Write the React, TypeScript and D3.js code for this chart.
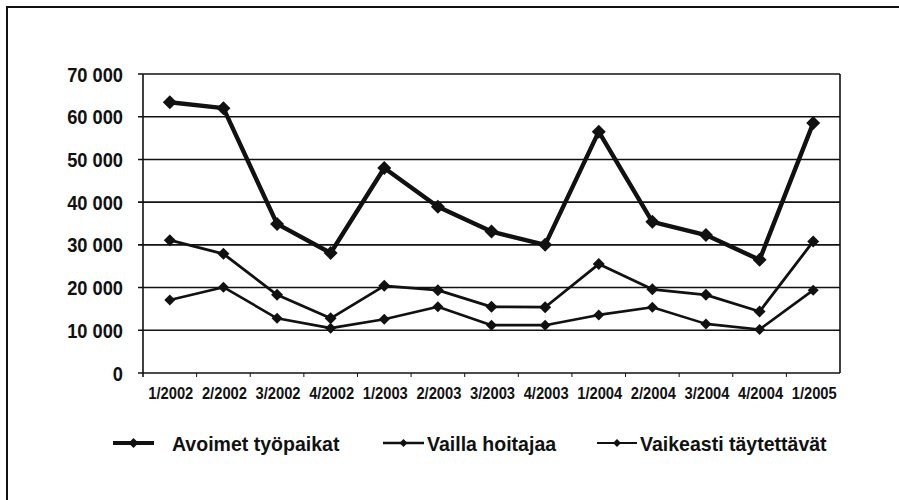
import { useEffect, useRef } from "react";
import * as d3 from "d3";

const quarters = [
  "1/2002", "2/2002", "3/2002", "4/2002",
  "1/2003", "2/2003", "3/2003", "4/2003",
  "1/2004", "2/2004", "3/2004", "4/2004",
  "1/2005",
];

const avoimet = [63400, 62000, 34900, 28100, 48000, 38900, 33100, 30000, 56500, 35400, 32300, 26500, 58500];
const vaillaHoitajaa = [31100, 27900, 18300, 12800, 20400, 19400, 15500, 15400, 25500, 19600, 18300, 14400, 30800];
const vaikeasti = [17100, 20100, 12800, 10500, 12600, 15500, 11200, 11200, 13600, 15400, 11500, 10200, 19400];

const yTicks = [0, 10000, 20000, 30000, 40000, 50000, 60000, 70000];

const seriesNames = ["Avoimet työpaikat", "Vailla hoitajaa", "Vaikeasti täytettävät"];

const W = 899;
const H = 500;
const FONT = "'Liberation Sans', Arial, sans-serif";
const INK = "#111";

export default function App() {
  const ref = useRef<SVGSVGElement | null>(null);

  useEffect(() => {
    const svg = d3.select(ref.current);
    svg.selectAll("*").remove();

    // outer frame, runs off the right and bottom edges like the scan
    svg.append("rect")
      .attr("x", 7).attr("y", 7)
      .attr("width", W + 20).attr("height", H + 20)
      .attr("fill", "none").attr("stroke", INK).attr("stroke-width", 2);

    const left = 143, right = 840, top = 74, bottom = 373;

    const x = d3.scaleBand<string>().domain(quarters).range([left, right]);
    const y = d3.scaleLinear().domain([0, 70000]).range([bottom, top]);
    const cx = (q: string) => (x(q) ?? 0) + x.bandwidth() / 2;

    const fmt = (v: number) => d3.format(",")(v).replace(/,/g, " ");

    // condensed bold text: Liberation Sans squeezed horizontally
    const label = (
      g: d3.Selection<any, any, any, any>,
      tx: number, ty: number, txt: string,
      size: number, squeeze: number, anchor = "start"
    ) =>
      g.append("text")
        .attr("transform", `translate(${tx},${ty}) scale(${squeeze},1)`)
        .attr("text-anchor", anchor)
        .attr("dy", "0.36em")
        .attr("font-family", FONT)
        .attr("font-weight", "bold")
        .attr("font-size", size)
        .attr("fill", INK)
        .text(txt);

    // gridlines
    svg.append("g")
      .selectAll("line")
      .data(yTicks)
      .join("line")
      .attr("x1", left - 5).attr("x2", right)
      .attr("y1", (d) => y(d)).attr("y2", (d) => y(d))
      .attr("stroke", INK).attr("stroke-width", 1.6);

    // plot frame right side + y axis
    svg.append("line")
      .attr("x1", right).attr("x2", right).attr("y1", top).attr("y2", bottom)
      .attr("stroke", INK).attr("stroke-width", 1.6);
    svg.append("line")
      .attr("x1", left).attr("x2", left).attr("y1", top).attr("y2", bottom + 4)
      .attr("stroke", INK).attr("stroke-width", 1.6);

    // x ticks at category boundaries
    svg.append("g")
      .selectAll("line")
      .data(quarters.slice(1))
      .join("line")
      .attr("x1", (d) => x(d) ?? 0).attr("x2", (d) => x(d) ?? 0)
      .attr("y1", bottom).attr("y2", bottom + 4)
      .attr("stroke", INK).attr("stroke-width", 1);

    // y labels
    const yl = svg.append("g");
    yTicks.forEach((t) => label(yl, 123, y(t), fmt(t), 21, 0.87, "end"));

    // x labels
    const xl = svg.append("g");
    quarters.forEach((q) => label(xl, cx(q) + 1, 393, q, 16, 0.92, "middle"));

    const series = [
      { values: avoimet, width: 4.4, size: 14 },
      { values: vaillaHoitajaa, width: 2.8, size: 12 },
      { values: vaikeasti, width: 2.6, size: 11 },
    ];

    const line = d3.line<number>()
      .x((_, i) => cx(quarters[i]))
      .y((d) => y(d));

    const diamond = (s: number) => `M0,${-s / 2}L${s / 2},0L0,${s / 2}L${-s / 2},0Z`;

    series.slice().reverse().forEach((s) => {
      svg.append("path")
        .datum(s.values)
        .attr("d", line)
        .attr("fill", "none")
        .attr("stroke", INK)
        .attr("stroke-width", s.width)
        .attr("stroke-linejoin", "round");
      svg.append("g")
        .selectAll("path")
        .data(s.values)
        .join("path")
        .attr("transform", (d, i) => `translate(${cx(quarters[i])},${y(d)})`)
        .attr("d", diamond(s.size))
        .attr("fill", INK);
    });

    // legend
    const legend = [
      { x1: 113, x2: 154, tx: 172, width: 4, size: 10 },
      { x1: 383, x2: 424, tx: 427, width: 2.6, size: 8 },
      { x1: 597, x2: 637, tx: 640, width: 2, size: 8 },
    ];
    const ly = 443;
    legend.forEach((l, i) => {
      const g = svg.append("g");
      g.append("line")
        .attr("x1", l.x1).attr("x2", l.x2).attr("y1", ly).attr("y2", ly)
        .attr("stroke", INK).attr("stroke-width", l.width);
      g.append("path")
        .attr("transform", `translate(${(l.x1 + l.x2) / 2},${ly})`)
        .attr("d", diamond(l.size))
        .attr("fill", INK);
      label(g, l.tx, ly, seriesNames[i], 21, 0.93);
    });
  }, []);

  return (
    <svg
      ref={ref}
      width={W}
      height={H}
      style={{ position: "fixed", left: 0, top: 0, background: "#fff" }}
    />
  );
}
